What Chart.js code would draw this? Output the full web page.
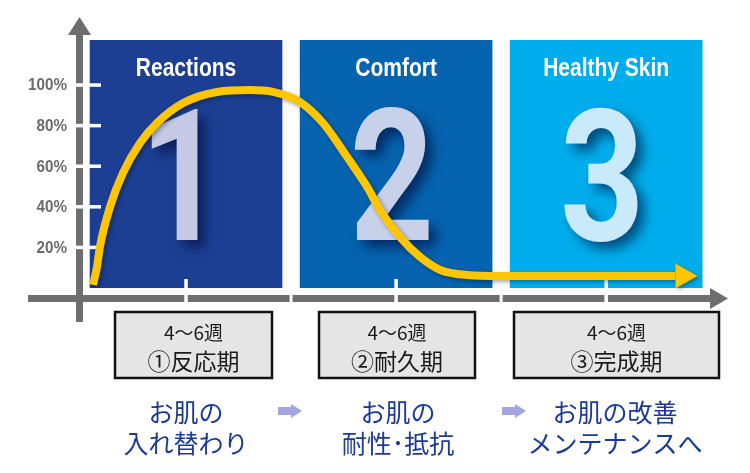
<!DOCTYPE html>
<html lang="ja">
<head>
<meta charset="utf-8">
<title>お肌の変化</title>
<script src="https://cdn.jsdelivr.net/npm/chart.js@4.4.1/dist/chart.umd.min.js"></script>
<style>
  html, body { margin: 0; padding: 0; background: #fff; }
  #wrap { width: 750px; height: 473px; }
</style>
</head>
<body>
<div id="wrap"><canvas id="chart" width="750" height="473"></canvas></div>
<script>
// データ
const phases = [1, 2, 3];
const phaseTitles = ['Reactions', 'Comfort', 'Healthy Skin'];
const phaseNumbers = ['1', '2', '3'];
const panelHeights = [122, 122, 122];
const curveX = [0.557, 0.576, 0.590, 0.638, 0.700, 0.781, 0.862, 0.986, 1.148, 1.305, 1.414,
                1.543, 1.652, 1.767, 1.862, 1.924, 2.019, 2.114, 2.210, 2.338, 2.495, 3.33];
const curveY = [1.5, 10.3, 20.2, 39.9, 56.7, 71.4, 81.3, 91.1, 96.6, 97.5, 96.6,
                91.6, 81.3, 64.5, 49.8, 38.4, 25.1, 15.3, 8.9, 6.4, 5.9, 5.9];
const yTicks = [20, 40, 60, 80, 100];
const periodLabels = ['4～6週', '4～6週', '4～6週'];
const stageLabels = ['①反応期', '②耐久期', '③完成期'];
const effectTop = ['お肌の', 'お肌の', 'お肌の改善'];
const effectBottom = ['入れ替わり', '耐性･抵抗', 'メンテナンスへ'];

// 見た目
const panelColors = ['#1c3f94', '#0563b0', '#00adec'];
const numberColors = ['#c6c9e6', '#c8d1ea', '#c9eafa'];
const axisGray = '#6e6e6e';
const curveColor = '#fec600';
const sans = '"Liberation Sans", Arial, sans-serif';
const digits = 'Roboto, "Liberation Sans", sans-serif';
const jp = '"Noto Sans CJK JP", sans-serif';

// 下の枠とテキストの配置
const boxSpans = [[115, 272], [319, 475], [514, 719]];
const effectCenters = [186, 398, 615];
const flowArrows = [290, 514];

function tri(ctx, a, b, c) {
  ctx.beginPath();
  ctx.moveTo(a[0], a[1]);
  ctx.lineTo(b[0], b[1]);
  ctx.lineTo(c[0], c[1]);
  ctx.closePath();
  ctx.fill();
}

// 横に詰めた文字（Narrow 書体の代わり）
function narrowText(ctx, text, x, y, sx) {
  ctx.save();
  ctx.translate(x, y);
  ctx.scale(sx, 1);
  ctx.fillText(text, 0, 0);
  ctx.restore();
}

function drawAxes(chart) {
  const { ctx, chartArea, scales: { x, y } } = chart;
  const ax = chartArea.left - 1.5;
  const ay = y.getPixelForValue(0) + 10.5;
  ctx.save();
  ctx.fillStyle = axisGray;
  // 縦軸
  ctx.fillRect(ax - 3.5, 33, 7, 322 - 33);
  tri(ctx, [ax, 17], [ax - 11.5, 35], [ax + 11.5, 35]);
  // 横軸
  ctx.fillRect(28, ay - 3.5, 712 - 28, 7);
  tri(ctx, [728, ay], [710, ay - 10.5], [710, ay + 10.5]);

  ctx.fillStyle = '#fff';
  phases.forEach((p, i) => {
    const px = x.getPixelForValue(p);
    ctx.fillRect(px - 1.75, ay - 19.5, 3.5, 23);
    if (i < phases.length - 1) {
      const mid = x.getPixelForValue(p + 0.5);
      ctx.fillRect(mid - 1.5, ay - 4, 3, 8);
    }
  });
  yTicks.forEach(t => {
    const py = y.getPixelForValue(t);
    ctx.fillRect(ax - 3.5, py - 1.75, 25, 3.5);
  });

  ctx.fillStyle = '#6b6b6b';
  ctx.font = 'bold 16px ' + sans;
  ctx.textAlign = 'right';
  ctx.textBaseline = 'middle';
  yTicks.forEach(t => {
    narrowText(ctx, t + '%', 67, y.getPixelForValue(t) + 1, 0.95);
  });
  ctx.restore();
}

function drawPanelText(chart) {
  const { ctx, scales: { x, y } } = chart;
  phases.forEach((p, i) => {
    const cx = x.getPixelForValue(p);
    const top = y.getPixelForValue(panelHeights[i]);
    const bottom = y.getPixelForValue(0);
    ctx.save();
    ctx.textAlign = 'center';
    ctx.textBaseline = 'alphabetic';
    ctx.fillStyle = '#fff';
    ctx.font = 'bold 25px ' + sans;
    narrowText(ctx, phaseTitles[i], cx, top + 36, 0.84);

    ctx.shadowColor = 'rgba(0, 0, 40, 0.55)';
    ctx.shadowBlur = 12;
    ctx.shadowOffsetX = 7;
    ctx.shadowOffsetY = 7;
    ctx.fillStyle = numberColors[i];
    ctx.font = 'bold 184px ' + digits;
    narrowText(ctx, phaseNumbers[i], cx - 4, bottom - 48, 0.8);
    ctx.restore();
  });
}

function drawBottom(chart) {
  const ctx = chart.ctx;
  ctx.save();
  ctx.textAlign = 'center';
  ctx.textBaseline = 'middle';
  boxSpans.forEach(([l, r], i) => {
    ctx.fillStyle = '#e5e5e5';
    ctx.fillRect(l, 312, r - l, 66);
    ctx.strokeStyle = '#111';
    ctx.lineWidth = 2.5;
    ctx.strokeRect(l, 312, r - l, 66);
    const cx = (l + r) / 2;
    ctx.fillStyle = '#1a1a1a';
    ctx.font = '19px ' + jp;
    ctx.fillText(periodLabels[i], cx, 333);
    ctx.font = '23px ' + jp;
    ctx.fillText(stageLabels[i], cx, 361);
  });

  ctx.fillStyle = '#1b3a93';
  ctx.font = '25px ' + jp;
  effectCenters.forEach((cx, i) => {
    ctx.fillText(effectTop[i], cx, 412);
    ctx.fillText(effectBottom[i], cx, 443);
  });

  ctx.fillStyle = '#a4a4e4';
  flowArrows.forEach(cx => {
    ctx.fillRect(cx - 12, 407, 14, 8);
    tri(ctx, [cx + 12, 411], [cx + 1, 404], [cx + 1, 418]);
  });
  ctx.restore();
}

const decor = {
  id: 'decor',
  beforeDatasetDraw(chart, args) {
    if (args.meta.type === 'line') {
      const ctx = chart.ctx;
      ctx.save();
      ctx.shadowColor = 'rgba(0, 0, 0, 0.35)';
      ctx.shadowBlur = 4;
      ctx.shadowOffsetX = 2;
      ctx.shadowOffsetY = 2;
    }
  },
  afterDatasetDraw(chart, args) {
    const ctx = chart.ctx;
    if (args.meta.type === 'bar') {
      drawAxes(chart);
      drawPanelText(chart);
    } else if (args.meta.type === 'line') {
      // 矢印の先
      const pts = args.meta.data;
      const last = pts[pts.length - 1];
      ctx.fillStyle = curveColor;
      tri(ctx, [last.x + 22, last.y], [last.x, last.y - 12.5], [last.x, last.y + 12.5]);
      ctx.restore();
    }
  },
  afterDraw(chart) {
    drawBottom(chart);
  }
};

new Chart(document.getElementById('chart'), {
  type: 'line',
  data: {
    datasets: [
      {
        type: 'line',
        data: curveX.map((x, i) => ({ x: x, y: curveY[i] })),
        borderColor: curveColor,
        borderWidth: 8,
        pointRadius: 0,
        cubicInterpolationMode: 'monotone',
        borderCapStyle: 'butt',
        order: 1
      },
      {
        type: 'bar',
        data: phases.map((p, i) => ({ x: p, y: panelHeights[i] })),
        backgroundColor: panelColors,
        barThickness: 192,
        order: 2
      }
    ]
  },
  options: {
    responsive: false,
    animation: false,
    events: [],
    layout: { padding: { left: 81, right: 22, top: 14, bottom: 185 } },
    plugins: { legend: { display: false }, tooltip: { enabled: false } },
    scales: {
      x: { type: 'linear', min: 0.5, max: 3.58, display: false, offset: false },
      y: { type: 'linear', min: 0, max: 135, display: false }
    }
  },
  plugins: [decor]
});
</script>
</body>
</html>
